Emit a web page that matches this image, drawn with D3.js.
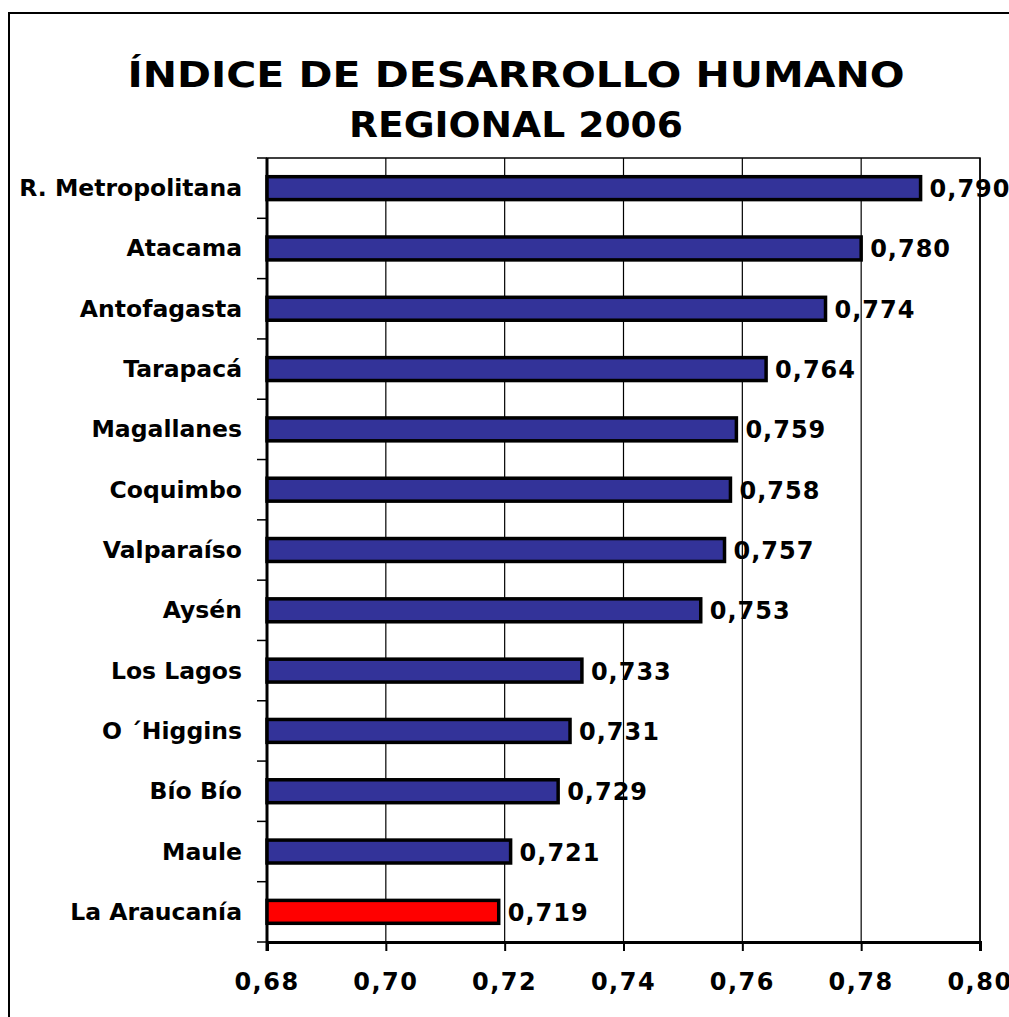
<!DOCTYPE html>
<html>
<head>
<meta charset="utf-8">
<script src="https://cdn.jsdelivr.net/npm/d3@7"></script>
<style>
  html, body { margin: 0; padding: 0; background: #fff; }
  svg { display: block; }
  text { font-family: "DejaVu Sans", Verdana, sans-serif; font-weight: bold; fill: #000; }
</style>
</head>
<body>
<svg id="chart" width="1009" height="1017"></svg>
<script>
// ---- data ----
const regions = ["R. Metropolitana", "Atacama", "Antofagasta", "Tarapacá", "Magallanes", "Coquimbo",
  "Valparaíso", "Aysén", "Los Lagos", "O´Higgins", "Bío Bío", "Maule", "La Araucanía"];
const regionLabels = ["R. Metropolitana", "Atacama", "Antofagasta", "Tarapacá", "Magallanes", "Coquimbo",
  "Valparaíso", "Aysén", "Los Lagos", "O ´Higgins", "Bío Bío", "Maule", "La Araucanía"];
const idhValues = [0.790, 0.780, 0.774, 0.764, 0.759, 0.758, 0.757, 0.753, 0.733, 0.731, 0.729, 0.721, 0.719];
const highlighted = ["La Araucanía"];
const xTicks = [0.68, 0.70, 0.72, 0.74, 0.76, 0.78, 0.80];
const titleLines = ["ÍNDICE DE DESARROLLO HUMANO", "REGIONAL 2006"];

// ---- layout ----
const W = 1009, H = 1017;
const plot = { left: 267, right: 980, top: 158, bottom: 942 };
const svg = d3.select("#chart");
const fmt = v => v.toFixed(3).replace(".", ",");
const fmtTick = v => v.toFixed(2).replace(".", ",");

svg.append("rect").attr("width", W).attr("height", H).attr("fill", "#fff");
// outer frame (continues past right / bottom edges)
svg.append("rect").attr("x", 9).attr("y", 13).attr("width", W + 20).attr("height", H + 20)
  .attr("fill", "none").attr("stroke", "#000").attr("stroke-width", 2);

const x = d3.scaleLinear().domain([0.68, 0.80]).range([plot.left, plot.right]);
const y = d3.scaleBand().domain(regions).range([plot.top, plot.bottom]).paddingInner(0.62).paddingOuter(0.31);

// title
const titleWidths = [777, 334];
titleLines.forEach((t, i) => {
  svg.append("text")
    .attr("x", 516).attr("y", 87 + i * 50)
    .attr("font-size", 35)
    .attr("text-anchor", "middle")
    .attr("textLength", titleWidths[i])
    .attr("lengthAdjust", "spacingAndGlyphs")
    .text(t);
});

// gridlines
svg.append("g").selectAll("line").data(xTicks).join("line")
  .attr("x1", d => x(d)).attr("x2", d => x(d))
  .attr("y1", plot.top).attr("y2", plot.bottom)
  .attr("stroke", "#000").attr("stroke-width", 1.2);

// plot frame
svg.append("rect").attr("x", plot.left).attr("y", plot.top)
  .attr("width", plot.right - plot.left).attr("height", plot.bottom - plot.top)
  .attr("fill", "none").attr("stroke", "#000").attr("stroke-width", 1.5);

// bottom axis
const xAxis = d3.axisBottom(x).tickValues(xTicks).tickSize(9).tickFormat("");
const gx = svg.append("g").attr("transform", `translate(0,${plot.bottom})`).call(xAxis);
gx.select(".domain").attr("stroke", "#000").attr("stroke-width", 3);
gx.selectAll(".tick line").attr("stroke", "#000").attr("stroke-width", 2);
svg.append("g").selectAll("text").data(xTicks).join("text")
  .attr("x", d => x(d)).attr("y", 990)
  .attr("font-size", 24).attr("letter-spacing", 1.5)
  .attr("text-anchor", "middle")
  .text(fmtTick);

// left axis: ticks at category boundaries
const step = y.step();
const boundaries = d3.range(regions.length + 1).map(i => plot.top + i * step);
svg.append("g").selectAll("line").data(boundaries).join("line")
  .attr("x1", plot.left - 10).attr("x2", plot.left)
  .attr("y1", d => d).attr("y2", d => d)
  .attr("stroke", "#000").attr("stroke-width", 1.5);
svg.append("line").attr("x1", plot.left).attr("x2", plot.left)
  .attr("y1", plot.top).attr("y2", plot.bottom + 9)
  .attr("stroke", "#000").attr("stroke-width", 3);

// bars
const bars = svg.append("g");
regions.forEach((r, i) => {
  const v = idhValues[i];
  const cy = y(r) + y.bandwidth() / 2;
  bars.append("rect")
    .attr("x", x(0.68)).attr("y", y(r))
    .attr("width", x(v) - x(0.68)).attr("height", y.bandwidth())
    .attr("fill", highlighted.includes(r) ? "#FF0000" : "#333399")
    .attr("stroke", "#000").attr("stroke-width", 3.5);
  svg.append("text")
    .attr("x", x(v) + 9).attr("y", cy + 9)
    .attr("font-size", 24).attr("letter-spacing", 1)
    .text(fmt(v));
  svg.append("text")
    .attr("x", 242).attr("y", cy + 8)
    .attr("font-size", 23.5).attr("text-anchor", "end")
    .text(regionLabels[i]);
});
</script>
</body>
</html>
